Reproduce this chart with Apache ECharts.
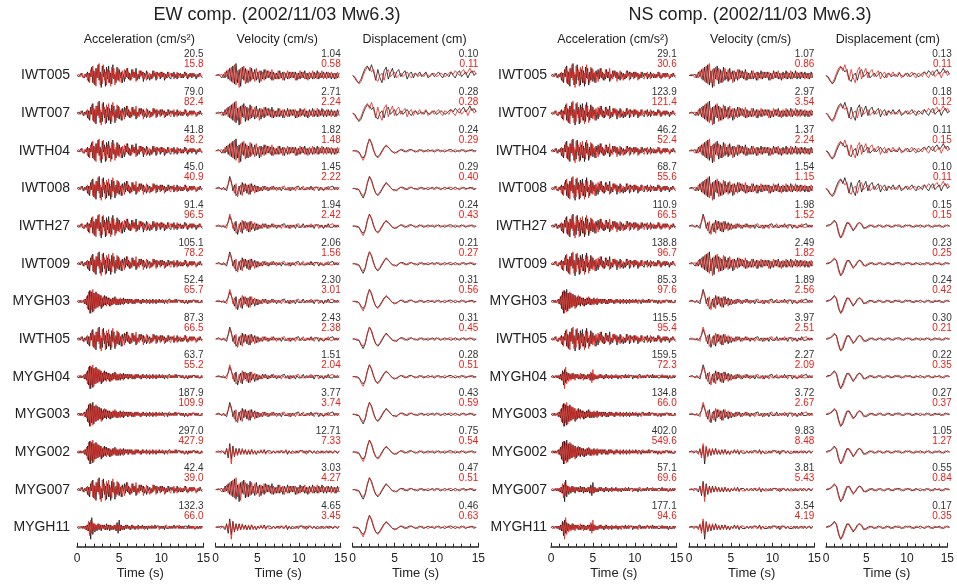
<!DOCTYPE html>
<html><head><meta charset="utf-8">
<script src="https://cdn.jsdelivr.net/npm/echarts@6/dist/echarts.min.js"></script>
<style>html,body{margin:0;padding:0;background:#fff}#c{width:957px;height:588px}</style>
</head><body><div id="c"></div>
<script>
// ---------------- data ----------------
const stations = ['IWT005','IWT007','IWTH04','IWT008','IWTH27','IWT009','MYGH03','IWTH05','MYGH04','MYG003','MYG002','MYG007','MYGH11'];
const timeTicks = [0, 5, 10, 15];

// peak values (black = observed, red = simulated)
const ewAccBlack = [20.5,79.0,41.8,45.0,91.4,105.1,52.4,87.3,63.7,187.9,297.0,42.4,132.3];
const ewAccRed   = [15.8,82.4,48.2,40.9,96.5,78.2,65.7,66.5,55.2,109.9,427.9,39.0,66.0];
const ewVelBlack = [1.04,2.71,1.82,1.45,1.94,2.06,2.30,2.43,1.51,3.77,12.71,3.03,4.65];
const ewVelRed   = [0.58,2.24,1.48,2.22,2.42,1.56,3.01,2.38,2.04,3.74,7.33,4.27,3.45];
const ewDispBlack= [0.10,0.28,0.24,0.29,0.24,0.21,0.31,0.31,0.28,0.43,0.75,0.47,0.46];
const ewDispRed  = [0.11,0.28,0.29,0.40,0.43,0.27,0.56,0.45,0.51,0.59,0.54,0.51,0.63];
const nsAccBlack = [29.1,123.9,46.2,68.7,110.9,138.8,85.3,115.5,159.5,134.8,402.0,57.1,177.1];
const nsAccRed   = [30.6,121.4,52.4,55.6,66.5,96.7,97.6,95.4,72.3,66.0,549.6,69.6,94.6];
const nsVelBlack = [1.07,2.97,1.37,1.54,1.98,2.49,1.89,3.97,2.27,3.72,9.83,3.81,3.54];
const nsVelRed   = [0.86,3.54,2.24,1.15,1.52,1.82,2.56,2.51,2.09,2.67,8.48,5.43,4.19];
const nsDispBlack= [0.13,0.18,0.11,0.10,0.15,0.23,0.24,0.30,0.22,0.27,1.05,0.55,0.17];
const nsDispRed  = [0.11,0.12,0.15,0.11,0.15,0.25,0.42,0.21,0.35,0.37,1.27,0.84,0.35];

// normalised waveform shapes (acc: 0.125 s, vel: 0.1875 s, disp: 0.25 s samples)
const accSpreadP = [0,1,-1,0,2,-1,0,-2,1,-1, 3,-5,2,-1,7,-6,4,-8,6,-2, 9,-4,3,-10,8,-1,5,-9,7,-3, 8,-6,2,-7,9,-3,1,-6,7,-4,
  5,-2,3,-6,1,-5,4,-1,6,-3, 2,-4,5,-1,3,-2,6,-4,1,-3, 4,0,3,-5,2,-1,4,-3,0,-4, 1,-3,4,-1,2,-4,3,0,2,-3,
  3,-1,2,-4,1,-2,3,-1,0,-3, 2,-1,3,-2,1,-3,2,0,2,-2, 1,-2,3,0,2,-3,1,-1,2,-2, 2,-1,1,-3,1,-1,2,0,1,-2];
const accSpreadQ = [0,-1,1,-1,0,2,-2,1,-1,2, -4,2,-6,5,-1,8,-7,3,-9,6, -2,10,-8,1,-7,9,-4,3,-8,5, -6,4,-9,7,-2,6,-8,3,-4,6,
  -5,2,-6,4,-1,5,-3,6,-2,3, -4,1,-3,5,-2,3,-5,1,-2,4, -1,4,-2,3,-3,0,-4,3,-1,2, -3,1,-2,4,0,3,-3,2,-1,3,
  -2,3,-1,2,-3,1,-2,3,-1,2, 0,2,-3,1,-1,3,-2,1,-2,1, -2,1,-1,3,-2,0,-2,2,-1,2, -1,2,0,1,-2,1,-1,2,-1,0];
const accBurstP = [0,1,-1,1,-1,0,1,-2,2,-3, 5,-7,9,-10,8,-9,7,-6,8,-5, 6,-4,5,-6,3,-4,5,-3,4,-2, 3,-4,2,-3,3,-2,4,-3,2,-3,
  2,-3,2,-2,3,-2,2,-1,2,-2, 2,-1,2,-2,1,-2,2,-1,2,-1, 1,-2,2,-1,1,-1,2,-1,1,-2, 1,-1,2,-1,1,-2,1,-1,2,-1,
  1,-1,1,-2,1,-1,1,0,2,-1, 1,-1,1,-1,2,-1,1,0,1,-1, 1,-1,0,-1,1,-2,1,-1,1,-1, 1,0,1,-1,1,-1,0,-1,1,-1];
const accBurstQ = [0,-1,1,-1,1,-1,0,2,-2,4, -6,8,-10,9,-7,10,-8,7,-6,7, -5,6,-4,5,-5,4,-3,4,-4,3, -3,3,-4,2,-3,3,-2,3,-3,2,
  -2,3,-2,2,-3,2,-1,2,-2,2, -1,2,-2,1,-2,2,-1,2,-1,1, -2,1,-1,2,-1,1,-2,1,-1,2, -1,1,-2,1,-1,2,-1,1,-1,1,
  -1,2,-1,1,0,1,-2,1,-1,1, -1,1,-1,2,-1,1,0,1,-1,1, -1,1,-2,1,-1,0,-1,1,-1,1, 0,1,-1,1,-1,1,-1,0,-1,1];
const accSpikeP = [0,1,-1,0,1,-1,1,-1,1,-2, 2,-3,4,-10,8,-6,3,-4,2,-3, 3,-2,2,-3,2,-1,2,-2,3,-2, 2,-3,2,-2,1,-2,2,-3,4,-5,
  6,-3,2,-2,1,-2,2,-1,2,-1, 1,-2,2,-1,1,-2,1,-1,2,-1, 1,-1,2,-1,1,-1,1,-2,1,-1, 1,-1,1,-1,2,-1,1,0,1,-1,
  1,-1,1,-2,1,-1,0,-1,1,-1, 1,-1,2,-1,1,0,1,-1,1,-1, 1,-1,1,0,1,-1,2,-1,1,-1, 1,-1,0,-1,1,-1,1,-1,1,0];
const accSpikeQ = [0,-1,1,-1,0,1,-1,1,-2,2, -3,5,-7,6,-5,4,-3,3,-2,2, -2,3,-2,2,-1,2,-2,1,-2,2, -1,2,-2,1,-2,2,-1,2,-3,3,
  -3,2,-2,1,-2,1,-1,2,-1,1, -2,1,-1,2,-1,1,-1,1,-2,1, -1,1,-1,1,-2,1,-1,1,0,1, -1,2,-1,1,-1,1,0,1,-2,1,
  -1,1,-1,1,0,2,-1,1,-1,1, -1,1,0,1,-1,1,-1,2,-1,1, -1,1,-1,0,-1,1,-1,1,-1,1, -1,1,-2,1,-1,0,-1,1,-1,1];

const velNoisyP = [0,1,0,-1,1,-2,3,-1,5,-4, 7,-6,9,-8,4,-10,6,-3,8,-7, 5,-6,7,-4,3,-5,6,-3,4,-5, 3,-4,5,-2,4,-3,5,-4,2,-3,
  4,-3,2,-4,3,-2,4,-3,3,-2, 3,-4,2,-3,4,-2,3,-3,2,-4, 3,-2,4,-3,2,-3,3,-2,4,-3, 2,-3,3,-2,3,-2,2,-3,3,-2];
const velNoisyQ = [0,-1,1,0,-2,1,-2,4,-3,6, -5,8,-7,10,-6,5,-9,7,-4,6, -6,4,-5,6,-3,5,-4,3,-6,4, -3,5,-3,4,-2,3,-4,3,-3,2,
  -3,4,-2,3,-4,2,-3,3,-2,3, -2,3,-4,2,-3,3,-2,4,-3,2, -3,2,-3,3,-2,4,-3,2,-2,3, -2,3,-2,2,-3,2,-3,2,-2,2];
const velPulseP = [0,0,1,0,-1,1,0,-2,4,10, 6,-2,3,-6,-4,2,-5,5,-3,4, -4,3,-5,4,-2,3,-3,2,-2,1, -2,2,-1,1,-2,1,-1,2,-1,1,
  -1,1,-2,1,-1,0,-1,1,-2,1, -1,1,0,2,-1,1,-1,0,-1,1, -1,2,-1,1,0,1,-2,1,-1,0, -1,1,-1,1,0,2,-1,1,-1,1];
const velPulseQ = [0,1,0,-1,0,1,-1,1,3,8, 9,1,-4,4,-7,-2,3,-6,4,-2, 3,-5,4,-3,2,-4,2,-3,1,-2, 2,-1,2,-2,1,-1,2,-1,1,-2,
  1,-1,1,0,2,-1,1,-2,1,-1, 1,-2,1,-1,0,-1,2,-1,1,-1, 1,-1,1,-2,1,0,1,-1,1,-2, 1,-1,2,-1,0,-1,1,-1,1,-1];
const velSpikeP = [0,0,1,-1,0,1,-1,2,-3,5, -10,4,-3,2,-3,2,-2,3,-2,1, -2,2,-1,2,-2,1,-2,1,-1,2, -1,1,-2,1,-1,0,-1,1,-1,1,
  -1,1,0,1,-1,2,-1,1,-1,0, -1,1,-1,1,0,1,-1,1,-2,1, 0,1,-1,1,-1,0,-1,1,-1,1, -1,0,1,-1,1,-1,0,1,-1,1];
const velSpikeQ = [0,1,0,-1,1,0,-2,3,-5,7, -6,5,-4,3,-2,3,-2,2,-1,2, -2,1,-2,2,-1,1,-2,1,-1,1, -1,2,-1,1,0,1,-1,1,-1,0,
  1,-1,1,-1,0,1,-2,1,-1,1, 0,-1,1,-1,1,0,1,-1,1,-1, 1,0,-1,1,-1,1,0,-1,1,-1, 0,1,-1,1,0,-1,1,0,-1,1];

const dispNoisyP = [0,-2,-5,-6,-3,2,6,8,4,9, 3,-4,5,-2,-6,4,7,-3,2,6, -2,3,5,-1,2,4,-3,1,3,-2, 2,0,3,-1,1,3,-2,0,2,-1,
  1,3,0,-2,2,1,-1,3,0,-2, 2,4,-1,1,3,-2,2,4,0,2];
const dispNoisyQ = [0,-1,-4,-7,-5,0,4,7,6,3, 5,-3,-5,0,2,-4,3,5,-1,1, 3,-2,0,2,-1,1,3,0,-2,1, 2,-1,0,1,-1,2,0,-1,1,2,
  -1,0,2,1,-1,0,2,3,1,4, 2,0,3,5,1,3,6,2,4,1];
const dispUpP = [0,0,0,-1,-4,-6,-3,5,10,6, 0,-4,-5,-3,0,3,4,3,1,-1, -2,-1,0,1,0,-1,0,1,1,0, -1,0,1,0,-1,0,1,0,0,-1,
  0,1,0,0,-1,0,1,1,0,-1, 0,0,1,0,-1,0,0,1,0,0];
const dispUpQ = [0,0,-1,-1,-5,-8,-4,4,10,7, 1,-4,-6,-4,-1,2,5,3,1,-1, -1,-2,0,1,1,0,-1,0,1,0, 0,-1,0,1,0,0,-1,0,1,0,
  1,0,-1,0,1,0,0,-1,0,1, 0,-1,0,1,0,0,1,0,-1,0];
const dispDownP = [0,0,1,2,4,3,-4,-10,-8,-3, 2,3,0,-3,-2,1,3,2,-1,-2, -1,0,1,0,-1,0,1,0,-1,0, 1,0,-1,0,1,1,0,-1,0,1,
  0,-1,0,1,0,-1,0,0,1,0, -1,0,1,0,0,-1,0,1,0,0];
const dispDownQ = [0,1,1,3,5,2,-6,-10,-6,-1, 3,2,-1,-4,-1,2,3,1,-2,-1, 0,1,0,-1,0,1,0,-1,0,1, 0,-1,0,1,0,0,-1,0,1,0,
  1,0,-1,0,0,1,0,-1,0,1, 0,-1,0,0,1,0,-1,0,1,0];

// which shape each station's trace follows
const ewAccShape  = ['S','S','S','S','S','S','B','S','B','B','B','S','K'];
const ewVelShape  = ['N','N','N','P','P','P','P','P','P','P','K','N','K'];
const ewDispShape = ['N','N','U','U','U','U','U','U','U','U','U','U','U'];
const nsAccShape  = ['S','S','S','S','S','S','B','S','K','B','B','K','K'];
const nsVelShape  = ['N','N','N','N','P','N','P','P','P','P','K','K','K'];
const nsDispShape = ['N','N','N','N','D','D','D','D','D','D','D','D','D'];

// ---------------- assembly ----------------
const accShapes  = {S:[accSpreadP,accSpreadQ], B:[accBurstP,accBurstQ], K:[accSpikeP,accSpikeQ]};
const velShapes  = {N:[velNoisyP,velNoisyQ], P:[velPulseP,velPulseQ], K:[velSpikeP,velSpikeQ]};
const dispShapes = {N:[dispNoisyP,dispNoisyQ], U:[dispUpP,dispUpQ], D:[dispDownP,dispDownQ]};

const FONT = '"Liberation Sans", Arial, Helvetica, sans-serif';
const RED = '#e3231d';
const columns = [
  {left:77,   width:126.5, shapes:accShapes,  pick:ewAccShape,  blk:ewAccBlack,  red:ewAccRed,  dec:1, dt:0.125},
  {left:215.7,width:125,   shapes:velShapes,  pick:ewVelShape,  blk:ewVelBlack,  red:ewVelRed,  dec:2, dt:0.1875},
  {left:352.7,width:125.6, shapes:dispShapes, pick:ewDispShape, blk:ewDispBlack, red:ewDispRed, dec:2, dt:0.25},
  {left:551,  width:125.7, shapes:accShapes,  pick:nsAccShape,  blk:nsAccBlack,  red:nsAccRed,  dec:1, dt:0.125},
  {left:689,  width:125.3, shapes:velShapes,  pick:nsVelShape,  blk:nsVelBlack,  red:nsVelRed,  dec:2, dt:0.1875},
  {left:826,  width:125.7, shapes:dispShapes, pick:nsDispShape, blk:nsDispBlack, red:nsDispRed, dec:2, dt:0.25}
];
const row0 = 75.5, rowStep = 37.65, half = 12;
const axisY = 546.7;

const grid = [], xAxis = [], yAxis = [], series = [], graphic = [];
columns.forEach((col, c) => {
  stations.forEach((st, r) => {
    const gi = grid.length;
    const cy = row0 + r * rowStep;
    grid.push({left: col.left, width: col.width, top: cy - half, height: 2 * half});
    xAxis.push({gridIndex: gi, type: 'value', min: 0, max: 15, show: false});
    yAxis.push({gridIndex: gi, type: 'value', min: -10, max: 10, show: false});
    const pair = col.shapes[col.pick[r]];
    const swap = (r + c) % 2;
    const bl = pair[swap], rd = pair[1 - swap];
    series.push({type: 'line', xAxisIndex: gi, yAxisIndex: gi, symbol: 'none', silent: true,
      lineStyle: {color: '#111', width: 0.8}, data: bl.map((v, i) => [i * col.dt, v])});
    series.push({type: 'line', xAxisIndex: gi, yAxisIndex: gi, symbol: 'none', silent: true,
      lineStyle: {color: RED, width: 0.8}, data: rd.map((v, i) => [i * col.dt, v])});
    const rx = col.left + col.width;
    graphic.push({type: 'text', x: rx, y: cy - 21, style: {text: col.blk[r].toFixed(col.dec), fill: '#333', fontSize: 10, fontFamily: FONT, align: 'right', verticalAlign: 'middle'}});
    graphic.push({type: 'text', x: rx, y: cy - 11, style: {text: col.red[r].toFixed(col.dec), fill: RED, fontSize: 10, fontFamily: FONT, align: 'right', verticalAlign: 'middle'}});
  });
  // time axis
  const gi = grid.length;
  grid.push({left: col.left, width: col.width, top: axisY - 20, height: 20});
  xAxis.push({gridIndex: gi, type: 'value', min: 0, max: 15, interval: 5,
    axisLine: {show: true, lineStyle: {color: '#222', width: 1.5}},
    axisTick: {show: true, inside: true, length: 4, lineStyle: {color: '#222', width: 1}},
    minorTick: {show: true, splitNumber: 5, length: 3, lineStyle: {color: '#222', width: 1}},
    splitLine: {show: false},
    axisLabel: {fontSize: 12, color: '#222', margin: 6, fontFamily: FONT,
      formatter: v => (timeTicks.indexOf(v) >= 0 ? String(v) : '')},
    name: 'Time (s)', nameLocation: 'middle', nameGap: 20,
    nameTextStyle: {fontSize: 13, color: '#222', fontFamily: FONT}});
  yAxis.push({gridIndex: gi, type: 'value', min: 0, max: 1, show: false});
});

// station labels
stations.forEach((st, r) => {
  const cy = row0 + r * rowStep;
  graphic.push({type: 'text', x: 70, y: cy, style: {text: st, fill: '#222', fontSize: 14, fontFamily: FONT, align: 'right', verticalAlign: 'middle'}});
  graphic.push({type: 'text', x: 547, y: cy, style: {text: st, fill: '#222', fontSize: 14, fontFamily: FONT, align: 'right', verticalAlign: 'middle'}});
});
// titles and column headers
const titles = [{t: 'EW comp. (2002/11/03 Mw6.3)', x: 277}, {t: 'NS comp. (2002/11/03 Mw6.3)', x: 750}];
titles.forEach(o => graphic.push({type: 'text', x: o.x, y: 15, style: {text: o.t, fill: '#222', fontSize: 18, fontFamily: FONT, align: 'center', verticalAlign: 'middle'}}));
const headers = ['Acceleration (cm/s²)', 'Velocity (cm/s)', 'Displacement (cm)'];
columns.forEach((col, c) => graphic.push({type: 'text', x: col.left + col.width / 2 - 1, y: 40,
  style: {text: headers[c % 3], fill: '#222', fontSize: 12.5, fontFamily: FONT, align: 'center', verticalAlign: 'middle'}}));

const chart = echarts.init(document.getElementById('c'), null, {renderer: 'canvas'});
chart.setOption({animation: false, backgroundColor: '#fff', grid, xAxis, yAxis, series, graphic});
</script></body></html>
